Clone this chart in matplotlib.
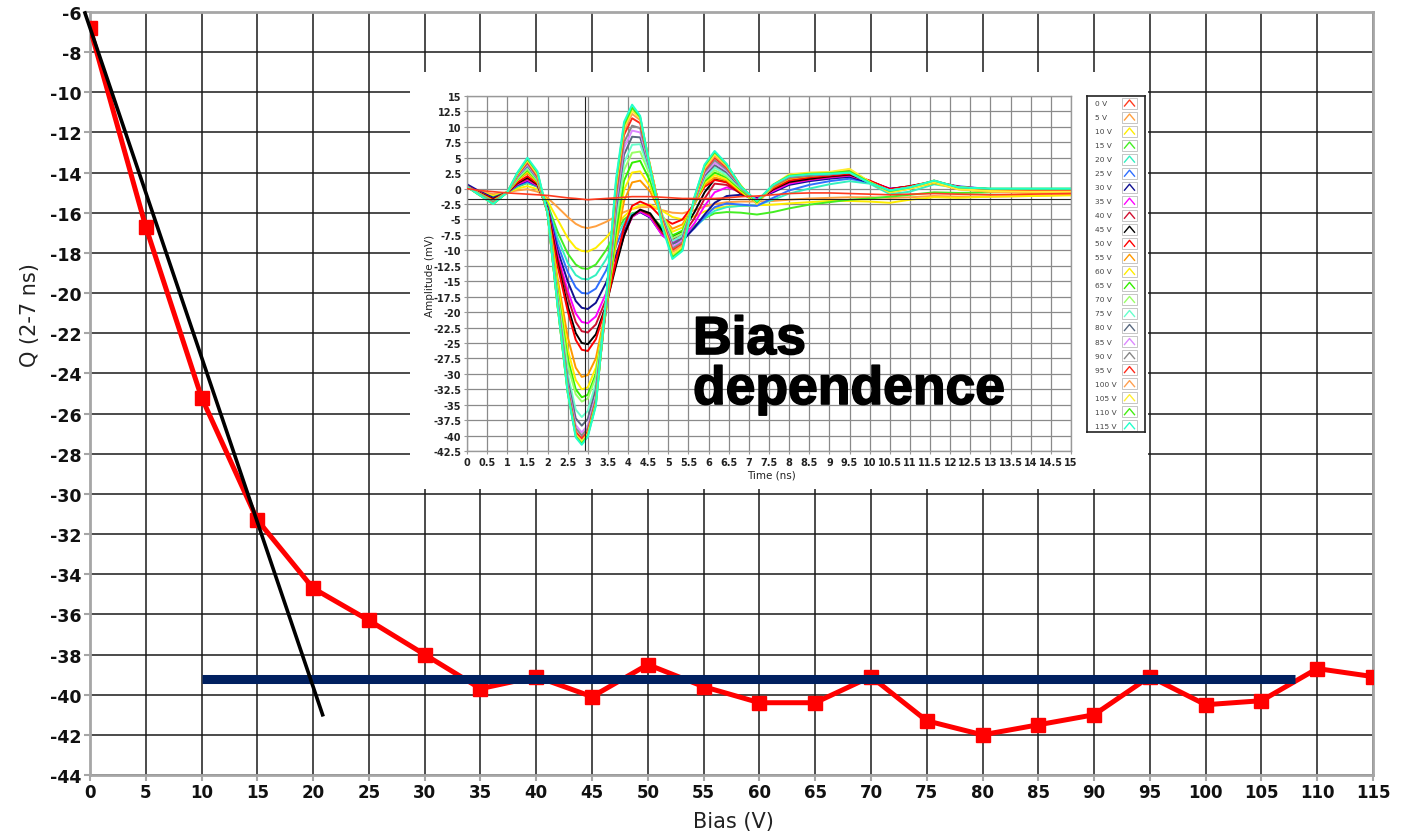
import numpy as np
import matplotlib.pyplot as plt
import matplotlib.patheffects as pe
from matplotlib.patches import Rectangle
from matplotlib.ticker import FormatStrFormatter

plt.rcParams["axes.unicode_minus"] = False

# === MAIN CURVE: integrated charge vs bias ===
bias = list(range(0, 120, 5))
charge = [-6.8, -16.7, -25.2, -31.3, -34.7, -36.3, -38.0, -39.7, -39.1, -40.1,
          -38.5, -39.6, -40.4, -40.4, -39.1, -41.3, -42.0, -41.5, -41.0, -39.1,
          -40.5, -40.3, -38.7, -39.1]

# linear rise and plateau guides
fit_x = [-0.45, 20.85]
fit_y = [-6.05, -41.0]
plateau_x = [10, 108]
plateau_y = -39.2

# === INSET: pulse shapes per bias ===
time_ns = [0, 0.3, 0.65, 1.0, 1.25, 1.5, 1.75, 2.0, 2.25, 2.5,
           2.7, 2.85, 3.0, 3.2, 3.45, 3.7, 3.9, 4.1, 4.3, 4.55,
           4.85, 5.1, 5.35, 5.65, 5.9, 6.15, 6.45, 6.8, 7.2, 7.6,
           8.0, 8.5, 9.0, 9.5, 10.0, 10.5, 11.0, 11.6, 12.2, 13.0,
           14.0, 15.0]

wave_0V = [0.0, -0.3, -0.5, -0.7, -0.8, -0.9, -1.0, -1.1, -1.3, -1.5,
           -1.6, -1.7, -1.8, -1.7, -1.6, -1.5, -1.4, -1.3, -1.3, -1.3,
           -1.4, -1.5, -1.6, -1.6, -1.6, -1.6, -1.5, -1.3, -1.2, -1.0,
           -0.8, -0.7, -0.7, -0.8, -0.9, -1.0, -0.9, -0.8, -0.9, -1.0,
           -0.9, -0.8]
wave_5V = [0.2, -0.4, -0.9, -0.6, -0.3, -0.1, -0.5, -1.5, -3.0, -4.6,
           -5.7, -6.2, -6.4, -6.1, -5.4, -4.5, -3.8, -3.3, -3.0, -3.0,
           -3.5, -3.9, -4.0, -3.5, -2.9, -2.5, -2.2, -2.1, -2.1, -2.0,
           -1.8, -1.6, -1.5, -1.4, -1.4, -1.5, -1.4, -1.2, -1.3, -1.3,
           -1.2, -1.0]
wave_10V = [0.3, -0.5, -1.2, -0.6, 0.0, 0.4, -0.1, -2.0, -5.0, -8.0,
            -9.6, -10.1, -10.2, -9.6, -8.0, -6.0, -4.5, -3.3, -2.7, -2.6,
            -3.6, -4.6, -5.0, -4.5, -3.7, -3.2, -2.9, -2.8, -2.7, -2.6,
            -2.4, -2.2, -2.0, -2.0, -2.1, -2.3, -1.8, -1.4, -1.5, -1.3,
            -1.2, -1.1]
wave_15V = [0.3, -0.6, -1.4, -0.6, 0.3, 0.9, 0.3, -2.5, -7.0, -10.5,
            -12.3, -12.9, -13.0, -12.3, -10.0, -7.0, -5.0, -4.0, -3.7, -4.3,
            -6.3, -7.5, -7.4, -6.0, -4.8, -4.0, -3.8, -3.9, -4.2, -3.8,
            -3.2, -2.6, -2.2, -1.8, -1.6, -1.3, -1.0, -0.6, -0.7, -0.6,
            -0.5, -0.5]
wave_20V = [0.3, -0.6, -1.5, -0.6, 0.4, 1.0, 0.4, -2.8, -8.0, -12.0,
            -14.0, -14.6, -14.7, -14.0, -11.5, -8.0, -5.5, -4.1, -3.7, -4.4,
            -6.8, -8.0, -7.8, -6.3, -4.8, -3.6, -3.0, -2.8, -2.7, -1.8,
            -0.8, 0.0, 0.7, 1.2, 0.8, -0.9, -0.5, 0.7, 0.1, -0.2,
            -0.2, -0.2]
wave_25V = [0.4, -0.6, -1.6, -0.6, 0.5, 1.1, 0.4, -3.0, -9.0, -13.5,
            -16.0, -16.9, -17.0, -16.2, -13.3, -9.3, -6.2, -4.3, -3.8, -4.6,
            -7.2, -8.5, -8.2, -6.4, -4.6, -3.0, -2.4, -2.6, -2.8, -1.5,
            -0.3, 0.6, 1.2, 1.6, 1.0, -0.2, 0.2, 1.0, 0.4, -0.1,
            -0.2, -0.2]
wave_30V = [0.7, -0.4, -1.5, -0.6, 0.6, 1.3, 0.5, -3.0, -10.0, -15.0,
            -18.2, -19.3, -19.5, -18.5, -15.3, -10.8, -7.0, -4.5, -3.8, -4.7,
            -7.5, -8.9, -8.5, -6.3, -4.2, -2.3, -1.2, -1.0, -1.5, -0.6,
            0.6, 1.2, 1.6, 1.9, 1.0, 0.0, 0.3, 0.9, 0.3, -0.2,
            -0.3, -0.3]
wave_35V = [0.4, -0.6, -1.7, -0.6, 0.7, 1.4, 0.5, -3.2, -10.8, -16.5,
            -20.2, -21.6, -21.8, -20.7, -17.0, -11.8, -7.5, -4.6, -3.7, -4.6,
            -7.6, -8.7, -8.2, -5.6, -2.8, -0.6, 0.2, -0.5, -1.7, -0.4,
            0.8, 1.4, 1.8, 2.1, 1.2, 0.0, 0.3, 1.0, 0.3, -0.1,
            -0.2, -0.3]
wave_40V = [0.4, -0.6, -1.7, -0.6, 0.8, 1.6, 0.6, -3.3, -11.3, -17.5,
            -21.6, -23.1, -23.3, -22.0, -18.0, -12.2, -7.6, -4.5, -3.5, -4.3,
            -7.2, -8.3, -7.6, -4.8, -1.6, 0.8, 0.6, -0.8, -1.9, -0.2,
            1.0, 1.5, 1.9, 2.2, 1.2, -0.1, 0.3, 1.1, 0.3, -0.1,
            -0.2, -0.4]
wave_45V = [0.3, -0.7, -1.7, -0.6, 0.9, 1.8, 0.7, -3.4, -12.0, -19.0,
            -23.4, -25.0, -25.2, -23.6, -19.0, -12.5, -7.6, -4.4, -3.4, -4.0,
            -6.8, -7.8, -7.0, -3.8, -0.6, 1.5, 1.1, -0.8, -2.0, -0.1,
            1.1, 1.6, 2.0, 2.3, 1.2, -0.1, 0.4, 1.1, 0.2, -0.2,
            -0.3, -0.4]
wave_50V = [0.3, -0.7, -1.8, -0.6, 1.0, 2.0, 0.8, -3.5, -12.5, -19.8,
            -24.5, -26.1, -26.3, -24.4, -19.2, -11.8, -6.2, -2.8, -2.1, -2.8,
            -4.8, -5.7, -5.0, -2.4, 0.3, 1.4, 1.0, -0.7, -1.9, 0.0,
            1.3, 1.8, 2.1, 2.4, 1.3, -0.1, 0.4, 1.2, 0.3, -0.2,
            -0.4, -0.5]
wave_55V = [0.3, -0.8, -2.0, -0.6, 1.3, 2.5, 1.0, -3.6, -14.5, -24.0,
            -29.0, -30.5, -30.2, -27.5, -19.5, -9.0, -2.0, 1.0, 1.3, -0.5,
            -4.5, -6.5, -5.8, -2.5, 0.6, 1.8, 1.3, -0.5, -2.3, 0.2,
            1.6, 2.0, 2.3, 2.9, 1.1, -0.5, 0.1, 1.0, 0.0, -0.4,
            -0.6, -0.6]
wave_60V = [0.3, -0.8, -2.0, -0.6, 1.4, 2.8, 1.1, -3.7, -15.5, -26.0,
            -31.0, -32.5, -32.2, -29.0, -20.0, -8.0, -0.2, 2.6, 2.8, 0.3,
            -4.5, -7.0, -6.3, -2.4, 0.9, 2.2, 1.5, -0.4, -2.4, 0.4,
            1.9, 2.2, 2.4, 3.1, 1.0, -0.6, 0.0, 0.9, -0.1, -0.5,
            -0.7, -0.7]
wave_65V = [0.3, -0.8, -2.1, -0.6, 1.5, 3.0, 1.2, -3.8, -16.5, -27.5,
            -32.5, -33.8, -33.4, -30.0, -20.0, -7.0, 1.3, 4.2, 4.5, 1.2,
            -4.5, -7.6, -6.8, -2.3, 1.2, 2.6, 1.8, -0.2, -2.3, 0.5,
            2.0, 2.3, 2.4, 3.0, 1.0, -0.5, 0.2, 1.1, 0.2, -0.1,
            -0.1, -0.1]
wave_70V = [0.3, -0.8, -2.1, -0.6, 1.6, 3.2, 1.3, -3.8, -17.0, -28.5,
            -33.3, -34.5, -34.0, -30.5, -19.5, -5.5, 3.0, 5.8, 6.0, 2.0,
            -4.2, -8.0, -7.2, -2.2, 1.5, 3.0, 2.0, 0.0, -2.2, 0.6,
            2.0, 2.3, 2.4, 2.9, 1.0, -0.4, 0.2, 1.1, 0.2, -0.1,
            -0.1, -0.1]
wave_75V = [0.3, -0.9, -2.2, -0.6, 1.8, 3.5, 1.5, -3.9, -17.5, -30.0,
            -35.8, -37.0, -36.0, -31.5, -19.5, -4.5, 4.2, 7.1, 7.2, 2.5,
            -4.5, -8.5, -7.6, -2.1, 1.8, 3.4, 2.3, 0.1, -2.0, 0.6,
            1.9, 2.2, 2.3, 2.6, 0.9, -0.3, 0.2, 1.2, 0.2, -0.1,
            -0.1, -0.1]
wave_80V = [0.3, -0.9, -2.2, -0.6, 1.9, 3.7, 1.6, -3.9, -18.0, -31.0,
            -37.2, -38.4, -37.3, -32.5, -19.5, -3.5, 5.5, 8.4, 8.3, 3.0,
            -4.7, -9.0, -8.0, -2.0, 2.1, 3.8, 2.6, 0.2, -2.4, 0.4,
            1.8, 2.1, 2.3, 2.7, 1.0, -0.4, 0.2, 1.1, 0.1, -0.2,
            -0.2, -0.2]
wave_85V = [0.3, -0.9, -2.3, -0.6, 2.0, 3.9, 1.7, -3.9, -18.3, -31.8,
            -38.3, -39.5, -38.3, -33.5, -19.5, -2.5, 6.6, 9.4, 9.1, 3.2,
            -4.9, -9.4, -8.4, -2.0, 2.4, 4.2, 2.9, 0.3, -2.2, 0.5,
            1.9, 2.2, 2.4, 2.8, 1.0, -0.3, 0.2, 1.2, 0.2, -0.1,
            -0.1, -0.2]
wave_90V = [0.3, -0.9, -2.3, -0.6, 2.1, 4.1, 1.8, -3.9, -18.6, -32.2,
            -38.8, -40.0, -38.8, -34.0, -19.5, -1.5, 7.5, 10.2, 9.8, 3.4,
            -5.0, -9.7, -8.7, -1.9, 2.7, 4.6, 3.1, 0.4, -2.3, 0.4,
            1.9, 2.2, 2.4, 2.8, 1.0, -0.4, 0.2, 1.2, 0.1, -0.2,
            -0.2, -0.2]
wave_95V = [0.3, -1.0, -2.4, -0.6, 2.2, 4.3, 2.0, -4.0, -18.8, -32.6,
            -39.4, -40.5, -39.3, -34.5, -19.0, -0.5, 8.7, 11.4, 10.6, 3.6,
            -5.2, -10.0, -9.0, -1.8, 3.0, 5.0, 3.4, 0.4, -2.3, 0.5,
            2.0, 2.3, 2.5, 2.9, 1.0, -0.5, 0.1, 1.3, 0.1, -0.3,
            -0.4, -0.4]
wave_100V = [0.3, -1.0, -2.4, -0.6, 2.3, 4.5, 2.2, -4.0, -19.0, -32.9,
             -39.8, -40.9, -39.7, -34.8, -18.8, 0.0, 9.4, 12.1, 11.1, 3.7,
             -5.4, -10.3, -9.2, -1.7, 3.2, 5.3, 3.6, 0.5, -2.5, 0.5,
             2.1, 2.5, 2.6, 3.1, 1.0, -0.6, 0.0, 1.1, -0.1, -0.5,
             -0.6, -0.6]
wave_105V = [0.3, -1.0, -2.5, -0.6, 2.4, 4.6, 2.4, -4.0, -19.0, -33.0,
             -39.9, -41.0, -39.8, -34.8, -18.5, 0.5, 9.9, 12.6, 11.4, 3.6,
             -5.6, -10.7, -9.5, -1.6, 3.4, 5.6, 3.8, 0.5, -2.4, 0.6,
             2.3, 2.6, 2.7, 3.2, 1.1, -0.6, 0.0, 1.1, -0.1, -0.4,
             -0.5, -0.5]
wave_110V = [0.3, -1.0, -2.5, -0.6, 2.5, 4.8, 2.6, -4.0, -19.0, -33.0,
             -40.1, -41.3, -40.0, -35.0, -18.3, 1.0, 10.3, 13.1, 11.6, 3.4,
             -5.9, -11.1, -9.8, -1.4, 3.7, 5.9, 3.9, 0.4, -2.2, 0.6,
             2.1, 2.4, 2.5, 2.8, 1.0, -0.4, 0.2, 1.3, 0.2, 0.0,
             0.0, 0.0]
wave_115V = [0.3, -1.0, -2.5, -0.6, 2.6, 5.0, 2.8, -4.0, -19.0, -33.0,
             -40.3, -41.5, -40.2, -35.2, -18.0, 1.5, 10.8, 13.6, 11.8, 3.3,
             -6.2, -11.4, -10.1, -1.3, 3.9, 6.1, 4.0, 0.3, -2.0, 0.6,
             2.0, 2.3, 2.4, 2.6, 0.9, -0.3, 0.2, 1.3, 0.2, 0.0,
             0.0, 0.0]

waves = [wave_0V, wave_5V, wave_10V, wave_15V, wave_20V, wave_25V, wave_30V,
         wave_35V, wave_40V, wave_45V, wave_50V, wave_55V, wave_60V, wave_65V,
         wave_70V, wave_75V, wave_80V, wave_85V, wave_90V, wave_95V, wave_100V,
         wave_105V, wave_110V, wave_115V]
wave_labels = [f"{b} V" for b in bias]
wave_colors = ["#ff3b1f", "#ffa040", "#ffee00", "#44ee22", "#33f0c0", "#2f6fff",
               "#101090", "#ff00ff", "#d01030", "#000000", "#ff0000", "#ff9900",
               "#ffee00", "#33ee00", "#99ff66", "#66ffcc", "#5a6a80", "#dd88ff",
               "#888888", "#ff2a1a", "#ffa050", "#ffee33", "#44ee11", "#22ffcc"]

# scope cursors
cursor_t = 2.92
cursor_v = -1.75

W, H = 1414, 837

# === MAIN PLOT ===
fig = plt.figure(figsize=(W / 100, H / 100), dpi=100)
ax = fig.add_axes([90 / W, 1 - 776 / H, 1283 / W, 763 / H])

ax.plot(bias, charge, color="#ff0000", lw=3.6, marker="s", ms=10, zorder=3)
ax.plot(plateau_x, [plateau_y, plateau_y], color="#002060", lw=6.5,
        solid_capstyle="butt", zorder=4)
ax.plot(fit_x, fit_y, color="black", lw=2.6, clip_on=False, zorder=5)

ax.set_xlim(0, 115)
ax.set_ylim(-44, -6)
ax.set_xticks(range(0, 116, 5))
ax.set_yticks(range(-44, -5, 2))
ax.grid(color="#1a1a1a", lw=1.1)
ax.set_axisbelow(True)
for s in ax.spines.values():
    s.set_color("#a6a6a6")
    s.set_linewidth(2)
ax.tick_params(length=4, width=1.5, color="#a6a6a6", pad=2,
               labelcolor="#111111")
ax.tick_params(axis="y", labelsize=12.5)
ax.tick_params(axis="x", labelsize=12)
for lbl in ax.get_xticklabels() + ax.get_yticklabels():
    lbl.set_fontweight("bold")

fig.text(30 / W, 1 - 315 / H, "Q (2-7 ns)", rotation=90, ha="center",
         va="center", fontsize=15, color="#222222")
fig.text(733 / W, 1 - 822 / H, "Bias (V)", ha="center", va="center",
         fontsize=15, color="#222222")

# white card behind the inset
fig.add_artist(Rectangle((410 / W, 1 - 490 / H), 738 / W, 417 / H,
                         transform=fig.transFigure, fc="white", ec="none",
                         zorder=1))

# === INSET: waveforms ===
ins = fig.add_axes([467 / W, 1 - 452 / H, 604 / W, 355 / H], zorder=3)
for w, c in list(zip(waves, wave_colors))[1:]:
    ins.plot(time_ns, w, color=c, lw=1.4, solid_joinstyle="round")
ins.plot(time_ns, wave_0V, color=wave_colors[0], lw=1.2, zorder=4)
ins.axvline(cursor_t, color="#222222", lw=0.8)
ins.axhline(cursor_v, color="#222222", lw=0.8)

ins.set_xlim(0, 15)
ins.set_ylim(-42.5, 15)
ins.set_xticks(np.arange(0, 15.01, 0.5))
ins.set_yticks(np.arange(-42.5, 15.01, 2.5))
ins.xaxis.set_major_formatter(FormatStrFormatter("%g"))
ins.yaxis.set_major_formatter(FormatStrFormatter("%g"))
ins.grid(color="#8a8a8a", lw=0.9)
ins.set_axisbelow(True)
for s in ins.spines.values():
    s.set_color("#999999")
    s.set_linewidth(1)
ins.tick_params(length=2.5, width=0.8, color="#999999", labelsize=7, pad=1.5,
                labelcolor="#222222")
for lbl in ins.get_xticklabels() + ins.get_yticklabels():
    lbl.set_fontweight("bold")

fig.text(430 / W, 1 - 276 / H, "Amplitude (mV)", rotation=90, ha="center",
         va="center", fontsize=7.5, color="#222222")
fig.text(771 / W, 1 - 476 / H, "Time (ns)", ha="center", va="center",
         fontsize=7.5, color="#222222")

# legend panel
lg = fig.add_axes([1087 / W, 1 - 433 / H, 58 / W, 336 / H], zorder=3)
lg.set_xlim(0, 58)
lg.set_ylim(336, 0)
lg.set_xticks([])
lg.set_yticks([])
for s in lg.spines.values():
    s.set_color("#222222")
    s.set_linewidth(1.2)
for i, (lab, c) in enumerate(zip(wave_labels, wave_colors)):
    y = 7 + i * 14.03
    lg.text(8, y, lab, fontsize=5.3, va="center", ha="left", color="#444444")
    lg.add_patch(Rectangle((35, y - 5.5), 15, 11, fc="white", ec="#bbbbbb",
                           lw=0.6))
    lg.plot([37.5, 42.5, 47.5], [y + 3, y - 3, y + 3], color=c, lw=1.0)

# caption over the inset
stroke = [pe.withStroke(linewidth=1.2, foreground="black")]
fig.text(693 / W, 1 - 355 / H, "Bias", fontsize=38.5, fontweight="bold",
         family="Liberation Sans", va="baseline", ha="left", zorder=10,
         path_effects=stroke)
fig.text(693 / W, 1 - 405 / H, "dependence", fontsize=38.5, fontweight="bold",
         family="Liberation Sans", va="baseline", ha="left", zorder=10,
         path_effects=stroke)

fig.savefig("out.png", dpi=100)
